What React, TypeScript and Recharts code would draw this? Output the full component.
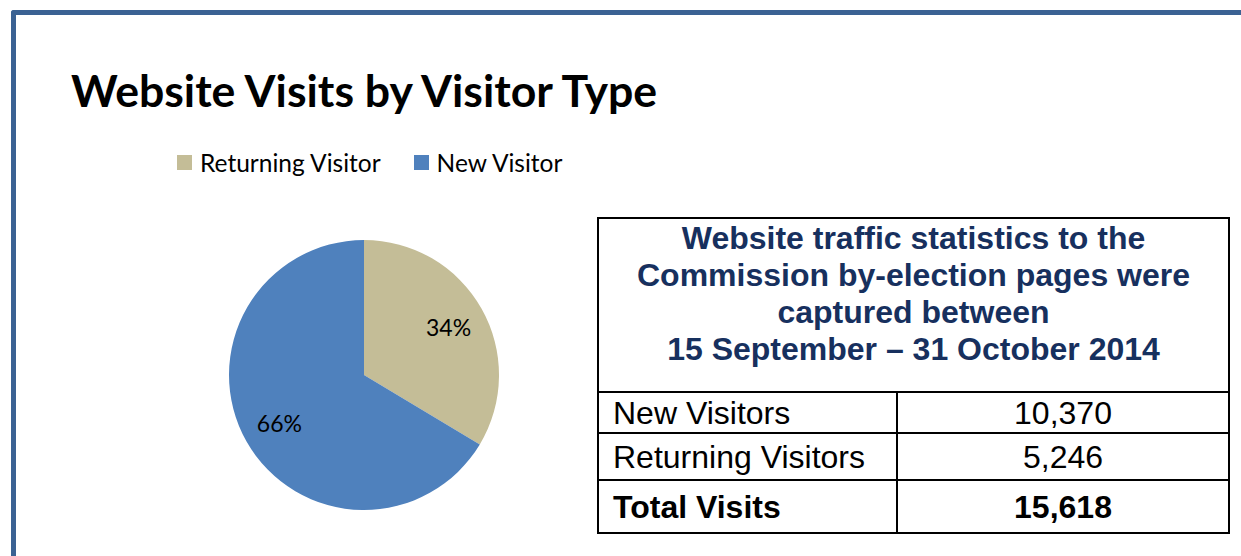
import React from 'react';
import { PieChart, Pie, Cell, Legend } from 'recharts';

const categories = ['Returning Visitor', 'New Visitor'];
const visits = [5246, 10370];
const colors = ['#C4BD97', '#4F81BD'];

const chartTitle = 'Website Visits by Visitor Type';
const tableTitle = [
  'Website traffic statistics to the',
  'Commission by-election pages were',
  'captured between',
  '15 September \u2013 31 October 2014',
];
const tableLabels = ['New Visitors', 'Returning Visitors', 'Total Visits'];
const tableValues = ['10,370', '5,246', '15,618'];

const data = categories.map((name, i) => ({ name, value: visits[i] }));

const RAD = Math.PI / 180;
const renderLabel = (props: any) => {
  const { cx, cy, midAngle, outerRadius, percent } = props;
  const r = outerRadius * 0.72;
  const x = cx + r * Math.cos(-midAngle * RAD);
  const y = cy + r * Math.sin(-midAngle * RAD);
  return (
    <text
      x={x}
      y={y}
      fill="#000"
      textAnchor="middle"
      dominantBaseline="central"
      fontFamily="Lato, 'Open Sans', sans-serif"
      fontSize={23}
    >
      {`${Math.round(percent * 100)}%`}
    </text>
  );
};

const renderLegend = (props: any) => {
  const payload: any[] = [...(props.payload || [])].sort(
    (a, b) => categories.indexOf(a.value) - categories.indexOf(b.value)
  );
  return (
    <div style={{ display: 'flex', alignItems: 'center', fontFamily: "Lato, 'Open Sans', sans-serif", fontSize: 24.5, color: '#000', whiteSpace: 'nowrap' }}>
      {payload.map((entry: any, i: number) => (
        <div key={i} style={{ display: 'flex', alignItems: 'center', marginRight: 33 }}>
          <span style={{ display: 'inline-block', width: 15, height: 15, background: entry.color, marginRight: 8 }} />
          <span>{entry.value}</span>
        </div>
      ))}
    </div>
  );
};

const cellStyle: React.CSSProperties = {
  border: '2px solid #000',
  fontFamily: "'Liberation Sans', Arial, sans-serif",
  fontSize: 32,
  color: '#000',
  padding: '0 14px',
  lineHeight: 1,
};

export default function App() {
  return (
    <div style={{ position: 'absolute', left: 0, top: 0, width: 1241, height: 556, background: '#fff', overflow: 'hidden' }}>
      {/* frame */}
      <div style={{ position: 'absolute', left: 11, top: 10, width: 1240, height: 560, borderTop: '5px solid #3B6293', borderLeft: '5px solid #3B6293', borderTopLeftRadius: 3, boxSizing: 'border-box' }} />
      {/* title */}
      <div style={{ position: 'absolute', left: 71, top: 63, fontFamily: "Lato, 'Open Sans', sans-serif", fontWeight: 700, fontSize: 44.6, lineHeight: 1.2, color: '#000', whiteSpace: 'nowrap' }}>
        {chartTitle}
      </div>
      <div style={{ position: 'absolute', left: 0, top: 0 }}>
        <PieChart width={1241} height={556} margin={{ top: 0, right: 0, bottom: 0, left: 0 }}>
          <Legend
            content={renderLegend}
            wrapperStyle={{ position: 'absolute', left: 177, top: 148, width: 500 }}
          />
          <Pie
            data={data}
            dataKey="value"
            nameKey="name"
            cx={364}
            cy={375}
            outerRadius={135}
            startAngle={90}
            endAngle={-270}
            stroke="none"
            labelLine={false}
            label={renderLabel}
            isAnimationActive={false}
          >
            {data.map((d, i) => (
              <Cell key={d.name} fill={colors[i]} />
            ))}
          </Pie>
        </PieChart>
      </div>
      {/* table */}
      <table
        style={{
          position: 'absolute',
          left: 597,
          top: 217,
          width: 631,
          borderCollapse: 'collapse',
          tableLayout: 'fixed',
        }}
      >
        <colgroup>
          <col style={{ width: 299 }} />
          <col style={{ width: 332 }} />
        </colgroup>
        <tbody>
          <tr style={{ height: 174 }}>
            <td
              colSpan={2}
              style={{
                ...cellStyle,
                verticalAlign: 'top',
                textAlign: 'center',
                fontWeight: 700,
                color: '#17305E',
                lineHeight: '37px',
                paddingTop: 1,
              }}
            >
              {tableTitle.map((t, i) => (
                <div key={i}>{t}</div>
              ))}
            </td>
          </tr>
          {tableLabels.map((lab, i) => (
            <tr key={lab} style={{ height: i === 0 ? 41 : i === 1 ? 47 : 53 }}>
              <td style={{ ...cellStyle, fontWeight: i === 2 ? 700 : 400 }}>{lab}</td>
              <td style={{ ...cellStyle, textAlign: 'center', fontWeight: i === 2 ? 700 : 400 }}>{tableValues[i]}</td>
            </tr>
          ))}
        </tbody>
      </table>
    </div>
  );
}
